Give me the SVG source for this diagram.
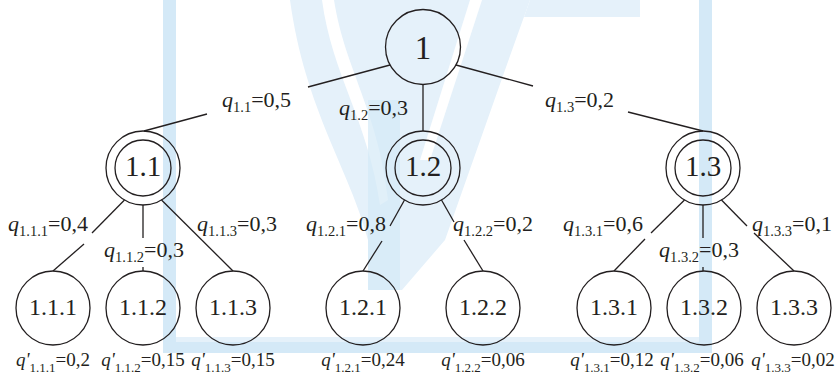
<svg xmlns="http://www.w3.org/2000/svg" width="836" height="374" viewBox="0 0 836 374">
<style>
.wm{fill:#d4e9f7;stroke:none}
.wl{fill:#e5f1fa;stroke:none}
.ws{fill:#ffffff;stroke:none}
.n circle{fill:none;stroke:#231f20;stroke-width:1.3}
#connectors line{stroke:#231f20;stroke-width:1.3}
text{font-family:"Liberation Serif","Times New Roman",serif;fill:#231f20}
.nt{text-anchor:middle}
.lb{font-size:22px}
.bl{font-size:19px;text-anchor:middle}
.q{font-style:italic}
.s{font-size:14.5px}
.bs{font-size:13px}
</style>
<g id="watermark">
<path class="wl" d="M290 0 L530 0 L505 70 L445 240 L402 290 L368 290 L368 240 C350 170 305 110 290 0 Z"/>
<path class="ws" d="M322 0 L334 0 C345 70 378 110 388 200 L380 205 C368 120 332 75 322 0 Z"/>
<path class="ws" d="M470 0 L482 0 L430 160 L420 160 Z"/>
<rect class="wm" x="368" y="100" width="32" height="190" opacity="0.7"/>
<path class="wl" d="M530 0 L640 0 L640 17 L524 17 Z"/>
<rect class="wm" x="163" y="0" width="13" height="353"/>
<rect class="wm" x="699" y="0" width="13" height="353"/>
<rect class="wl" x="176" y="337" width="523" height="6"/>
<rect class="wm" x="163" y="342" width="549" height="11"/>
</g>
<g id="connectors">
<line x1="390" y1="65" x2="308" y2="87"/>
<line x1="207" y1="114" x2="144" y2="131"/>
<line x1="423" y1="84.5" x2="423" y2="131"/>
<line x1="456" y1="65" x2="533" y2="86"/>
<line x1="628" y1="112" x2="703" y2="131"/>
<line x1="124.5" y1="200" x2="92" y2="233"/>
<line x1="84" y1="244" x2="53" y2="271"/>
<line x1="143" y1="205" x2="143" y2="238"/>
<line x1="143" y1="267" x2="143" y2="271"/>
<line x1="161.5" y1="200" x2="233" y2="271"/>
<line x1="404.5" y1="200" x2="390" y2="226"/>
<line x1="382" y1="241" x2="363" y2="271"/>
<line x1="441.5" y1="200" x2="454" y2="222"/>
<line x1="464" y1="240" x2="483" y2="271"/>
<line x1="684.5" y1="200" x2="651" y2="233"/>
<line x1="645" y1="239" x2="614" y2="271"/>
<line x1="703" y1="205" x2="703" y2="238"/>
<line x1="703" y1="267" x2="703" y2="271"/>
<line x1="721.5" y1="200" x2="747" y2="226"/>
<line x1="754" y1="233" x2="794" y2="271"/>
</g>
<g id="labels">
<text class="lb" x="222" y="107"><tspan class="q">q</tspan><tspan class="s" dy="5">1.1</tspan><tspan dy="-5">=0,5</tspan></text>
<text class="lb" x="339" y="115"><tspan class="q">q</tspan><tspan class="s" dy="5">1.2</tspan><tspan dy="-5">=0,3</tspan></text>
<text class="lb" x="545" y="107"><tspan class="q">q</tspan><tspan class="s" dy="5">1.3</tspan><tspan dy="-5">=0,2</tspan></text>
<text class="lb" x="8" y="231"><tspan class="q">q</tspan><tspan class="s" dy="5">1.1.1</tspan><tspan dy="-5">=0,4</tspan></text>
<text class="lb" x="104" y="257"><tspan class="q">q</tspan><tspan class="s" dy="5">1.1.2</tspan><tspan dy="-5">=0,3</tspan></text>
<text class="lb" x="197" y="231"><tspan class="q">q</tspan><tspan class="s" dy="5">1.1.3</tspan><tspan dy="-5">=0,3</tspan></text>
<text class="lb" x="306" y="231"><tspan class="q">q</tspan><tspan class="s" dy="5">1.2.1</tspan><tspan dy="-5">=0,8</tspan></text>
<text class="lb" x="453" y="231"><tspan class="q">q</tspan><tspan class="s" dy="5">1.2.2</tspan><tspan dy="-5">=0,2</tspan></text>
<text class="lb" x="563" y="231"><tspan class="q">q</tspan><tspan class="s" dy="5">1.3.1</tspan><tspan dy="-5">=0,6</tspan></text>
<text class="lb" x="659" y="257"><tspan class="q">q</tspan><tspan class="s" dy="5">1.3.2</tspan><tspan dy="-5">=0,3</tspan></text>
<text class="lb" x="752" y="231"><tspan class="q">q</tspan><tspan class="s" dy="5">1.3.3</tspan><tspan dy="-5">=0,1</tspan></text>
<text class="bl" x="53" y="366"><tspan class="q">q'</tspan><tspan class="bs" dy="6">1.1.1</tspan><tspan dy="-6">=0,2</tspan></text>
<text class="bl" x="143" y="366"><tspan class="q">q'</tspan><tspan class="bs" dy="6">1.1.2</tspan><tspan dy="-6">=0,15</tspan></text>
<text class="bl" x="233" y="366"><tspan class="q">q'</tspan><tspan class="bs" dy="6">1.1.3</tspan><tspan dy="-6">=0,15</tspan></text>
<text class="bl" x="363" y="366"><tspan class="q">q'</tspan><tspan class="bs" dy="6">1.2.1</tspan><tspan dy="-6">=0,24</tspan></text>
<text class="bl" x="483" y="366"><tspan class="q">q'</tspan><tspan class="bs" dy="6">1.2.2</tspan><tspan dy="-6">=0,06</tspan></text>
<text class="bl" x="612" y="366"><tspan class="q">q'</tspan><tspan class="bs" dy="6">1.3.1</tspan><tspan dy="-6">=0,12</tspan></text>
<text class="bl" x="702" y="366"><tspan class="q">q'</tspan><tspan class="bs" dy="6">1.3.2</tspan><tspan dy="-6">=0,06</tspan></text>
<text class="bl" x="793" y="366"><tspan class="q">q'</tspan><tspan class="bs" dy="6">1.3.3</tspan><tspan dy="-6">=0,02</tspan></text>
</g>
<g id="n1" class="n"><circle cx="423" cy="47" r="37.5"/><text class="nt" x="423" y="59" font-size="33">1</text></g>
<g id="n1_1" class="n"><circle cx="143" cy="168" r="37"/><circle cx="143" cy="168" r="28"/><text class="nt" x="143" y="176" font-size="29">1.1</text></g>
<g id="n1_2" class="n"><circle cx="423" cy="168" r="37"/><circle cx="423" cy="168" r="28"/><text class="nt" x="423" y="176" font-size="29">1.2</text></g>
<g id="n1_3" class="n"><circle cx="703" cy="168" r="37"/><circle cx="703" cy="168" r="28"/><text class="nt" x="703" y="176" font-size="29">1.3</text></g>
<g id="n1_1_1" class="n"><circle cx="53" cy="308" r="37"/><text class="nt" x="53" y="315" font-size="24">1.1.1</text></g>
<g id="n1_1_2" class="n"><circle cx="143" cy="308" r="37"/><text class="nt" x="143" y="315" font-size="24">1.1.2</text></g>
<g id="n1_1_3" class="n"><circle cx="233" cy="308" r="37"/><text class="nt" x="233" y="315" font-size="24">1.1.3</text></g>
<g id="n1_2_1" class="n"><circle cx="363" cy="308" r="37"/><text class="nt" x="363" y="315" font-size="24">1.2.1</text></g>
<g id="n1_2_2" class="n"><circle cx="483" cy="308" r="37"/><text class="nt" x="483" y="315" font-size="24">1.2.2</text></g>
<g id="n1_3_1" class="n"><circle cx="614" cy="308" r="37"/><text class="nt" x="614" y="315" font-size="24">1.3.1</text></g>
<g id="n1_3_2" class="n"><circle cx="704" cy="308" r="37"/><text class="nt" x="704" y="315" font-size="24">1.3.2</text></g>
<g id="n1_3_3" class="n"><circle cx="794" cy="308" r="37"/><text class="nt" x="794" y="315" font-size="24">1.3.3</text></g>
</svg>
